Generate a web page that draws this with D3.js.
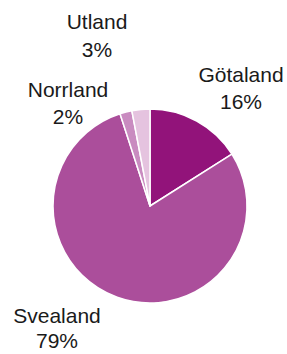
<!DOCTYPE html>
<html><head><meta charset="utf-8">
<script src="https://cdn.jsdelivr.net/npm/d3@7"></script>
<style>html,body{margin:0;padding:0;background:#fff;}</style>
</head><body>
<svg id="c" width="287" height="354"></svg>
<script>
const categories = ["Götaland", "Svealand", "Norrland", "Utland"];
const values = [16, 79, 2, 3];
const labels = ["16%", "79%", "2%", "3%"];
const colors = ["#92137a", "#ab4e9b", "#c98bc0", "#e5c3df"];

const svg = d3.select("#c");
const cx = 150, cy = 206, r = 97;
const g = svg.append("g").attr("transform", `translate(${cx},${cy})`);
const pie = d3.pie().sort(null).value(d => d.v);
const data = categories.map((c, i) => ({c, v: values[i], l: labels[i], col: colors[i]}));
const arc = d3.arc().innerRadius(0).outerRadius(r);
g.selectAll("path").data(pie(data)).enter().append("path")
  .attr("d", arc).attr("fill", d => d.data.col)
  .attr("stroke", "#fff").attr("stroke-width", 1.5).attr("stroke-linejoin", "round");

// label positions (x center, first baseline, line gap)
const labelPos = [[241, 82, 27], [57, 323, 25], [68, 97, 27], [97, 29, 28]];
data.forEach((d, i) => {
  const [x, y, gap] = labelPos[i];
  const t = svg.append("text").attr("text-anchor", "middle")
    .attr("font-family", "Liberation Sans, Arial, sans-serif").attr("font-size", 21).attr("fill", "#1a1a1a");
  t.append("tspan").attr("x", x).attr("y", y).text(d.c);
  t.append("tspan").attr("x", x).attr("y", y + gap).text(d.l);
});
</script>
</body></html>
